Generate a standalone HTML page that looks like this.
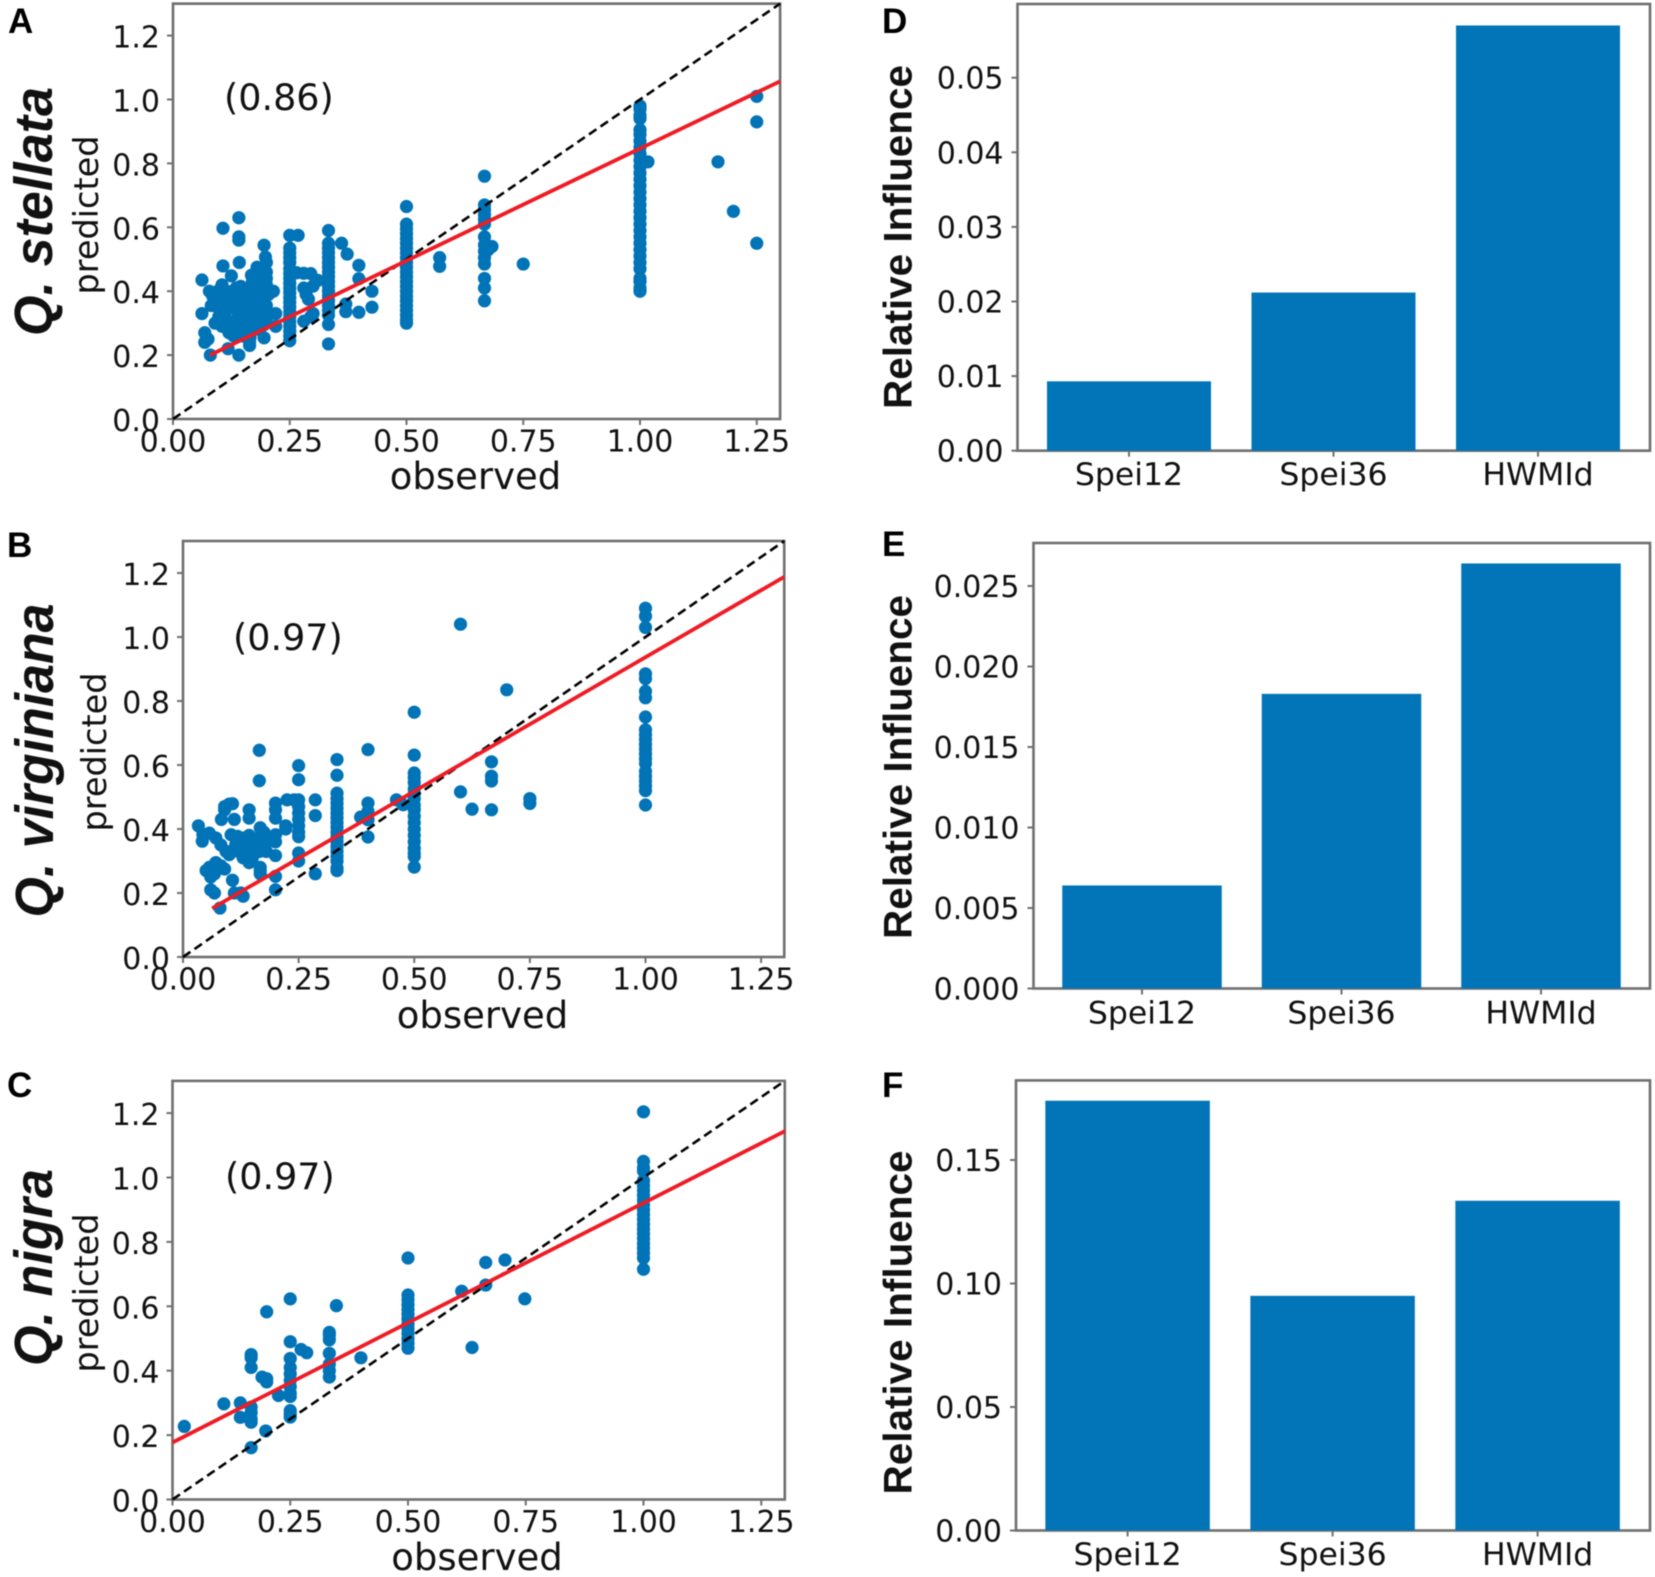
<!DOCTYPE html>
<html lang="en">
<head>
<meta charset="utf-8">
<title>Observed vs predicted and relative influence</title>
<style>
html,body{margin:0;padding:0;background:#fff;}
#figure{display:block;width:1655px;height:1577px;filter:blur(0.6px);}
text{fill:#111;font-family:"DejaVu Sans","Liberation Sans",sans-serif;}
.species{font-family:"Liberation Sans",sans-serif;font-weight:bold;font-style:italic;font-size:54px;fill:#111;}
.influence{font-family:"Liberation Sans",sans-serif;font-weight:bold;font-size:40px;fill:#111;}
.letter{font-family:"Liberation Sans",sans-serif;font-weight:bold;font-size:35px;fill:#000;}
</style>
</head>
<body>
<svg id="figure" xmlns="http://www.w3.org/2000/svg" width="1655" height="1577" viewBox="0 0 1655 1577"></svg>
<script>
const yTicksScatter=[0,0.2,0.4,0.6,0.8,1.0,1.2];
const xTicksScatter=[0,0.25,0.5,0.75,1.0,1.25];
const categories=['Spei12','Spei36','HWMId'];

const influenceD=[0.0093,0.0212,0.057];
const influenceE=[0.0064,0.0183,0.0264];
const influenceF=[0.174,0.095,0.1335];
const yTicksD=[0,0.01,0.02,0.03,0.04,0.05];
const yTicksE=[0,0.005,0.01,0.015,0.02,0.025];
const yTicksF=[0,0.05,0.1,0.15];

const fitA=[[0.079,0.2],[1.3,1.057]];
const fitB=[[0.063,0.152],[1.3,1.188]];
const fitC=[[0,0.177],[1.3,1.144]];

const pointsA=[
[1.25,1.01],[1.25,0.93],[1.25,0.55],[1.167,0.805],[1.2,0.65],[1.017,0.805],
[1,0.98],[1,0.97],[1,0.95],[1,0.94],[1,0.905],[1,0.89],[1,0.87],[1,0.85],[1,0.83],[1,0.81],[1,0.79],[1,0.77],[1,0.75],[1,0.73],[1,0.71],[1,0.69],[1,0.67],[1,0.65],[1,0.63],[1,0.61],[1,0.59],[1,0.57],[1,0.55],[1,0.53],[1,0.51],[1,0.49],[1,0.47],[1,0.44],[1,0.43],[1,0.41],[1,0.40],
[0.5,0.665],[0.5,0.61],[0.5,0.595],[0.5,0.58],[0.5,0.565],[0.5,0.55],[0.5,0.535],[0.5,0.52],[0.5,0.505],[0.5,0.49],[0.5,0.475],[0.5,0.46],[0.5,0.445],[0.5,0.43],[0.5,0.415],[0.5,0.40],[0.5,0.385],[0.5,0.37],[0.5,0.355],[0.5,0.34],[0.5,0.325],[0.5,0.31],[0.5,0.30],
[0.667,0.76],[0.667,0.67],[0.667,0.655],[0.667,0.64],[0.667,0.625],[0.667,0.61],[0.667,0.57],[0.667,0.545],[0.667,0.525],[0.667,0.505],[0.667,0.485],[0.667,0.44],[0.667,0.41],[0.667,0.37],[0.683,0.54],[0.675,0.53],
[0.75,0.485],[0.571,0.505],[0.571,0.478],
[0.333,0.59],[0.333,0.55],[0.333,0.535],[0.333,0.52],[0.333,0.505],[0.333,0.49],[0.333,0.475],[0.333,0.46],[0.333,0.445],[0.333,0.43],[0.333,0.415],[0.333,0.40],[0.333,0.385],[0.333,0.37],[0.333,0.355],[0.333,0.34],[0.333,0.325],[0.333,0.296],[0.333,0.235],
[0.25,0.575],[0.25,0.535],[0.25,0.52],[0.25,0.505],[0.25,0.49],[0.25,0.47],[0.25,0.455],[0.25,0.44],[0.25,0.425],[0.25,0.41],[0.25,0.395],[0.25,0.38],[0.25,0.365],[0.25,0.35],[0.25,0.335],[0.25,0.32],[0.25,0.305],[0.25,0.29],[0.25,0.275],[0.25,0.26],[0.25,0.245],
[0.268,0.575],[0.265,0.458],[0.28,0.456],[0.295,0.455],[0.31,0.434],[0.30,0.416],[0.28,0.41],[0.285,0.39],[0.29,0.375],[0.30,0.33],[0.28,0.306],[0.295,0.32],
[0.361,0.55],[0.373,0.516],[0.398,0.481],[0.398,0.439],[0.426,0.40],[0.426,0.35],[0.398,0.334],[0.37,0.336],[0.37,0.36],
[0.062,0.435],[0.062,0.33],[0.107,0.597],[0.141,0.63],[0.141,0.57],[0.141,0.56],[0.107,0.479],[0.142,0.49],[0.125,0.448],[0.195,0.544],[0.198,0.507],[0.2,0.49],[0.195,0.254],[0.141,0.2],[0.08,0.2],[0.068,0.27],[0.068,0.24],[0.075,0.25],[0.118,0.22],[0.164,0.24],[0.164,0.23],[0.22,0.33],[0.22,0.29],[0.215,0.4],
[0.078,0.40],[0.085,0.385],[0.09,0.37],[0.082,0.355],[0.095,0.35],[0.105,0.36],[0.11,0.33],[0.098,0.32],[0.09,0.30],[0.105,0.29],[0.115,0.31],[0.12,0.27],[0.13,0.26],[0.125,0.295],[0.118,0.345],[0.125,0.375],[0.12,0.39],[0.135,0.41],[0.145,0.415],[0.15,0.40],[0.14,0.385],[0.135,0.36],[0.145,0.35],[0.14,0.33],[0.135,0.31],[0.145,0.295],[0.14,0.275],[0.15,0.26],[0.16,0.265],[0.165,0.285],[0.155,0.31],[0.16,0.33],[0.155,0.355],[0.165,0.37],[0.16,0.39],[0.165,0.41],[0.17,0.43],[0.168,0.45],[0.18,0.475],[0.178,0.455],[0.19,0.47],[0.19,0.45],[0.2,0.46],[0.2,0.44],[0.185,0.43],[0.2,0.42],[0.18,0.41],[0.195,0.40],[0.205,0.39],[0.18,0.39],[0.195,0.375],[0.175,0.37],[0.2,0.355],[0.18,0.35],[0.195,0.335],[0.175,0.33],[0.2,0.315],[0.18,0.31],[0.195,0.295],[0.175,0.295],[0.17,0.28],[0.185,0.28],[0.165,0.255],[0.105,0.42],[0.1,0.405],[0.115,0.40],[0.11,0.38]
];

const pointsB=[
[1,1.09],[1,1.065],[1,1.03],[1,0.885],[1,0.87],[1,0.83],[1,0.81],[1,0.75],[1,0.71],[1,0.695],[1,0.68],[1,0.665],[1,0.65],[1,0.635],[1,0.62],[1,0.605],[1,0.58],[1,0.565],[1,0.55],[1,0.535],[1,0.52],[1,0.475],
[0.6,1.04],[0.7,0.835],[0.5,0.765],[0.5,0.631],[0.5,0.575],[0.5,0.56],[0.5,0.545],[0.5,0.525],[0.5,0.51],[0.5,0.495],[0.5,0.475],[0.5,0.46],[0.5,0.44],[0.5,0.42],[0.5,0.40],[0.5,0.38],[0.5,0.36],[0.5,0.34],[0.5,0.325],[0.5,0.314],[0.5,0.281],
[0.667,0.61],[0.667,0.565],[0.667,0.55],[0.667,0.46],[0.6,0.516],[0.625,0.462],[0.75,0.495],[0.75,0.48],
[0.165,0.646],[0.165,0.551],[0.25,0.598],[0.25,0.554],[0.333,0.617],[0.333,0.568],[0.333,0.512],[0.333,0.495],[0.333,0.48],[0.333,0.465],[0.333,0.45],[0.333,0.435],[0.333,0.42],[0.333,0.405],[0.333,0.39],[0.333,0.375],[0.333,0.36],[0.333,0.345],[0.333,0.33],[0.333,0.315],[0.333,0.30],[0.333,0.278],[0.333,0.27],
[0.4,0.648],[0.4,0.481],[0.4,0.455],[0.384,0.437],[0.4,0.429],[0.4,0.375],[0.4615,0.491],[0.476,0.476],
[0.286,0.491],[0.286,0.442],[0.286,0.26],
[0.2,0.481],[0.2,0.46],[0.2,0.434],[0.225,0.491],[0.24,0.491],[0.222,0.41],[0.222,0.40],
[0.25,0.491],[0.25,0.47],[0.25,0.45],[0.25,0.43],[0.25,0.41],[0.25,0.39],[0.25,0.376],[0.25,0.325],[0.25,0.30],
[0.2,0.382],[0.2,0.36],[0.2,0.317],[0.2,0.252],[0.2,0.21],
[0.167,0.404],[0.167,0.377],[0.167,0.28],[0.167,0.27],[0.143,0.46],[0.143,0.434],[0.111,0.43],
[0.083,0.43],[0.09,0.46],[0.09,0.47],[0.1,0.478],[0.107,0.479],
[0.0333,0.41],[0.0417,0.362],[0.043,0.383],[0.057,0.387],[0.071,0.372],[0.082,0.35],[0.093,0.33],[0.1,0.32],
[0.05,0.27],[0.057,0.28],[0.071,0.295],[0.082,0.285],[0.06,0.25],[0.068,0.26],[0.09,0.275],
[0.06,0.21],[0.068,0.2],[0.107,0.24],[0.111,0.2],[0.125,0.2],[0.13,0.19],[0.08,0.153],
[0.104,0.382],[0.118,0.377],[0.132,0.372],[0.143,0.38],[0.114,0.351],[0.128,0.35],[0.143,0.35],[0.157,0.34],[0.121,0.33],[0.136,0.32],[0.165,0.33],[0.13,0.31],[0.143,0.295],[0.167,0.26],[0.15,0.31],[0.157,0.36],[0.18,0.36],[0.18,0.33],[0.175,0.39],[0.125,0.36]
];

const pointsC=[
[1,1.204],[1,1.05],[1,1.03],[1,1.02],[1,0.99],[1,0.975],[1,0.96],[1,0.945],[1,0.93],[1,0.915],[1,0.90],[1,0.885],[1,0.87],[1,0.855],[1,0.84],[1,0.825],[1,0.81],[1,0.795],[1,0.78],[1,0.765],[1,0.75],[1,0.715],
[0.5,0.75],[0.5,0.635],[0.5,0.62],[0.5,0.605],[0.5,0.59],[0.5,0.575],[0.5,0.56],[0.5,0.545],[0.5,0.53],[0.5,0.515],[0.5,0.50],[0.5,0.485],[0.5,0.47],
[0.665,0.736],[0.706,0.744],[0.614,0.647],[0.665,0.666],[0.748,0.623],[0.636,0.472],[0.348,0.602],[0.25,0.623],[0.2,0.583],[0.25,0.49],[0.273,0.466],[0.285,0.456],[0.4,0.44],
[0.333,0.519],[0.333,0.51],[0.333,0.496],[0.333,0.454],[0.333,0.42],[0.333,0.40],[0.333,0.38],
[0.167,0.45],[0.167,0.44],[0.167,0.41],[0.19,0.38],[0.2,0.365],[0.2,0.375],
[0.25,0.438],[0.25,0.41],[0.25,0.39],[0.25,0.37],[0.25,0.35],[0.25,0.33],[0.25,0.32],[0.25,0.276],[0.25,0.265],[0.25,0.256],
[0.225,0.323],[0.109,0.297],[0.144,0.30],[0.144,0.255],[0.167,0.287],[0.167,0.27],[0.167,0.25],[0.167,0.24],[0.167,0.161],[0.198,0.213],[0.025,0.227]
];

const svg=document.getElementById('figure');
const NS='http://www.w3.org/2000/svg';
function make(tag,props,parent){
  const node=document.createElementNS(NS,tag);
  for(const key in props){node.setAttribute(key,props[key]);}
  parent.appendChild(node);
  return node;
}
function writeText(props,str,parent){
  const node=make('text',props,parent);
  node.textContent=str;
  return node;
}

const DOT='#0173b7';
const FRAME='#6f6f6f';
const BAR='#0175b8';

function drawScatter(cfg,points,fit){
  const xs=v=>cfg.x0+v*cfg.xUnit;
  const ys=v=>cfg.y0-v*cfg.yUnit;
  const g=make('g',{},svg);
  
  

  const frame=make('rect',{x:xs(0),y:ys(1.3),width:xs(1.3)-xs(0),height:ys(0)-ys(1.3),fill:'#fff',stroke:FRAME,'stroke-width':2.6},g);
  
  

  yTicksScatter.forEach(v=>{
    const tick=make('line',{x1:xs(0)-6,x2:xs(0),y1:ys(v),y2:ys(v),stroke:FRAME,'stroke-width':2},g);
    
    
    const label=writeText({x:xs(0)-13,y:ys(v)+12,'text-anchor':'end','font-size':30},v.toFixed(1),g);
    
    
  });
  xTicksScatter.forEach(v=>{
    const tick=make('line',{x1:xs(v),x2:xs(v),y1:ys(0),y2:ys(0)+6,stroke:FRAME,'stroke-width':2},g);
    
    
    const label=writeText({x:xs(v),y:cfg.tickBase,'text-anchor':'middle','font-size':30},v.toFixed(2),g);
    
    
  });

  points.forEach(p=>{
    const dot=make('circle',{cx:xs(p[0]),cy:ys(p[1]),r:6.6,fill:DOT},g);
    
    
  });

  const diag=make('line',{x1:xs(0),y1:ys(0),x2:xs(1.3),y2:ys(1.3),stroke:'#000','stroke-width':2.6,'stroke-dasharray':'9 5'},g);
  
  

  const red=make('line',{x1:xs(fit[0][0]),y1:ys(fit[0][1]),x2:xs(fit[1][0]),y2:ys(fit[1][1]),stroke:'#ee1c25','stroke-width':3.8},g);
  
  

  const note=writeText({x:cfg.noteX,y:cfg.noteY,'font-size':36.5},cfg.note,g);
  
  

  const xl=writeText({x:cfg.xlX,y:cfg.xlY,'text-anchor':'middle','font-size':37},'observed',g);
  
  

  const yl=writeText({x:0,y:0,'text-anchor':'middle','font-size':33.5,transform:'translate('+cfg.ylX+','+cfg.ylY+') rotate(-90)'},'predicted',g);
  
  

  const sp=writeText({x:0,y:0,'text-anchor':'middle','class':'species',textLength:cfg.spLen,lengthAdjust:'spacingAndGlyphs',transform:'translate('+cfg.spX+','+cfg.spY+') rotate(-90)'},cfg.species,g);
  
  

  const letter=writeText({x:cfg.letterX,y:cfg.letterY,'class':'letter'},cfg.id,g);
  
  
}

function drawBars(cfg,values,ticks){
  const ys=v=>cfg.y0-v*cfg.yUnit;
  const xc=i=>cfg.c0+i*cfg.step;
  const g=make('g',{},svg);
  
  

  const frame=make('rect',{x:cfg.L,y:cfg.T,width:cfg.R-cfg.L,height:cfg.y0-cfg.T,fill:'#fff',stroke:FRAME,'stroke-width':2.6},g);
  
  

  values.forEach((v,i)=>{
    const bar=make('rect',{x:xc(i)-cfg.w/2,y:ys(v),width:cfg.w,height:ys(0)-ys(v),fill:BAR},g);
    
    
    const tick=make('line',{x1:xc(i),x2:xc(i),y1:ys(0),y2:ys(0)+6,stroke:FRAME,'stroke-width':2},g);
    
    
    const label=writeText({x:xc(i),y:cfg.tickBase,'text-anchor':'middle','font-size':31.5},categories[i],g);
    
    
  });

  ticks.forEach(v=>{
    const tick=make('line',{x1:cfg.L-6,x2:cfg.L,y1:ys(v),y2:ys(v),stroke:FRAME,'stroke-width':2},g);
    
    
    const label=writeText({x:cfg.L-14,y:ys(v)+11,'text-anchor':'end','font-size':30},v.toFixed(cfg.dec),g);
    
    
  });

  const yl=writeText({x:0,y:0,'text-anchor':'middle','class':'influence',textLength:344,lengthAdjust:'spacingAndGlyphs',transform:'translate(911.5,'+cfg.ylY+') rotate(-90)'},'Relative Influence',g);
  
  

  const letter=writeText({x:882,y:cfg.letterY,'class':'letter'},cfg.id,g);
  
  
}

drawScatter({id:'A',x0:173,xUnit:467,y0:419,yUnit:319.5,tickBase:451.5,note:'(0.86)',noteX:224,noteY:110,xlX:475.5,xlY:489,ylX:98,ylY:215,species:'Q. stellata',spLen:249,spX:52,spY:211.5,letterX:8,letterY:33},pointsA,fitA);
drawScatter({id:'B',x0:183,xUnit:462.5,y0:957,yUnit:320,tickBase:989.5,note:'(0.97)',noteX:233,noteY:650,xlX:482.5,xlY:1028,ylX:106,ylY:752,species:'Q. virginiana',spLen:314,spX:53,spY:760.5,letterX:7,letterY:557},pointsB,fitB);
drawScatter({id:'C',x0:172.5,xUnit:471,y0:1499.5,yUnit:322,tickBase:1532,note:'(0.97)',noteX:225,noteY:1189,xlX:477,xlY:1570,ylX:98,ylY:1293,species:'Q. nigra',spLen:197,spX:52,spY:1267.5,letterX:7,letterY:1097},pointsC,fitC);

drawBars({id:'D',L:1017.5,R:1650,T:4,y0:450.7,yUnit:7460,c0:1129,step:204.5,w:164,tickBase:485,dec:2,ylY:237,letterY:33},influenceD,yTicksD);
drawBars({id:'E',L:1033.5,R:1650,T:543,y0:988.5,yUnit:16100,c0:1142,step:199.5,w:159.5,tickBase:1023.5,dec:3,ylY:767,letterY:556},influenceE,yTicksE);
drawBars({id:'F',L:1016,R:1650,T:1080.4,y0:1530.5,yUnit:2470,c0:1127.6,step:205,w:164.5,tickBase:1565,dec:2,ylY:1322.5,letterY:1097},influenceF,yTicksF);
</script>
</body>
</html>
